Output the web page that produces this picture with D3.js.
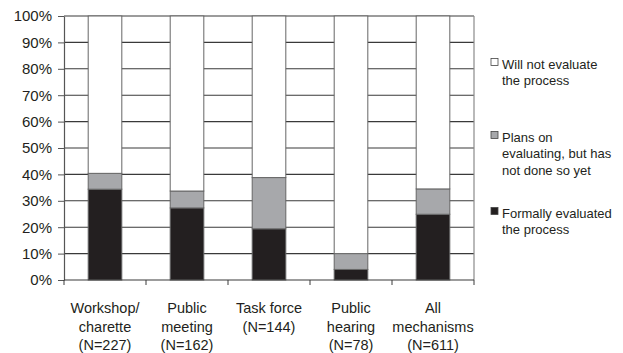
<!DOCTYPE html>
<html><head><meta charset="utf-8">
<script src="https://cdn.jsdelivr.net/npm/d3@7"></script>
<style>body{margin:0;background:#fff}svg{display:block}text{font-family:"Liberation Sans",Arial,sans-serif;fill:#231f20}</style>
</head><body><svg id="c" width="623" height="353"></svg>
<script>
const categories = [["Workshop/","charette","(N=227)"],["Public","meeting","(N=162)"],["Task force","(N=144)"],["Public","hearing","(N=78)"],["All","mechanisms","(N=611)"]];
const formally = [34.4, 27.3, 19.4, 4.0, 24.9];
const plans = [6.0, 6.4, 19.4, 6.0, 9.6];
const willNot = formally.map((d,i)=>100-d-plans[i]);
const yTicks = [0,10,20,30,40,50,60,70,80,90,100];
const seriesNames = [["Will not evaluate","the process"],["Plans on","evaluating, but has","not done so yet"],["Formally evaluated","the process"]];
const colors = {formally:"#231f20", plans:"#a7a8ab", willNot:"#ffffff"};

const svg = d3.select("#c");
const L=64,R=474,T=16,B=280;
const x = d3.scaleBand().domain(d3.range(categories.length)).range([L,R]).paddingInner(0.59).paddingOuter(0.295);
const y = d3.scaleLinear().domain([0,100]).range([B,T]);

// gridlines
svg.append("g").selectAll("line").data(yTicks.filter(d=>d>0)).join("line")
  .attr("x1",L).attr("x2",R).attr("y1",d=>y(d)).attr("y2",d=>y(d))
  .attr("stroke","#3a3a3a").attr("stroke-width",1.1);
// right border
svg.append("line").attr("x1",R).attr("x2",R).attr("y1",T).attr("y2",B).attr("stroke","#8a8a8a").attr("stroke-width",1.2);

// stacked bars
const rows = categories.map((c,i)=>({i, formally:formally[i], plans:plans[i], willNot:willNot[i]}));
const stack = d3.stack().keys(["formally","plans","willNot"])(rows);
const g = svg.append("g");
stack.forEach(s=>{
  g.selectAll(null).data(s).join("rect")
   .attr("x",d=>x(d.data.i)).attr("width",x.bandwidth())
   .attr("y",d=>y(d[1])).attr("height",d=>y(d[0])-y(d[1]))
   .attr("fill",colors[s.key]).attr("stroke","#666").attr("stroke-width",1);
});

// y axis
const ya = d3.axisLeft(y).tickValues(yTicks).tickFormat(d=>d+"%").tickSize(6).tickSizeOuter(0);
const yg = svg.append("g").attr("transform",`translate(${L},0)`).call(ya);
yg.select(".domain").attr("stroke","#555").attr("stroke-width",1.2);
yg.selectAll(".tick line").attr("stroke","#555");
yg.selectAll("text").attr("font-size",15).attr("x",-12).style("font-family","'Liberation Sans',Arial,sans-serif").attr("fill","#231f20");

// x axis
svg.append("line").attr("x1",L).attr("x2",R).attr("y1",B).attr("y2",B).attr("stroke","#3a3a3a").attr("stroke-width",1.1);
const bounds = d3.range(categories.length+1).map(i=>i===categories.length?R:x(i)-x.step()*x.paddingInner()/2);
svg.append("g").selectAll("line").data(bounds).join("line")
  .attr("x1",d=>d).attr("x2",d=>d).attr("y1",B).attr("y2",B+5).attr("stroke","#3a3a3a");
const xl = svg.append("g");
categories.forEach((c,i)=>{
  const t = xl.append("text").attr("x",x(i)+x.bandwidth()/2).attr("y",313).attr("text-anchor","middle").attr("font-size",14.5);
  c.forEach((s,k)=>t.append("tspan").attr("x",x(i)+x.bandwidth()/2).attr("dy",k?18.5:0).text(s));
});

// legend
const legY = [64,137,213];
const legColors = [colors.willNot, colors.plans, colors.formally];
seriesNames.forEach((lines,i)=>{
  svg.append("rect").attr("x",491).attr("y",legY[i]-5.5).attr("width",7).attr("height",7)
    .attr("fill",legColors[i]).attr("stroke","#444").attr("stroke-width",0.8);
  const t = svg.append("text").attr("x",502).attr("y",legY[i]+4.5).attr("font-size",13);
  lines.forEach((s,k)=>t.append("tspan").attr("x",502).attr("dy",k?16.6:0).text(s));
});
</script></body></html>
